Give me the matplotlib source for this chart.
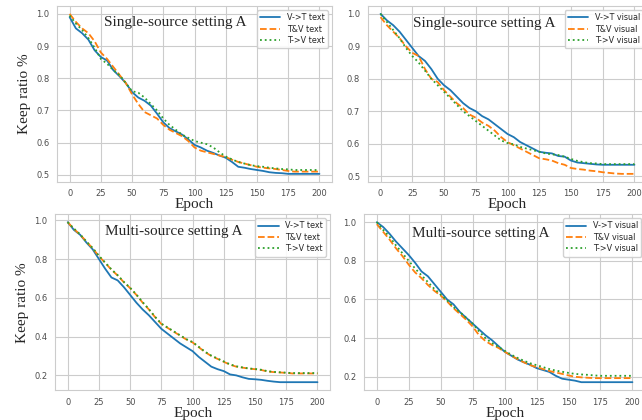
import numpy as np
import matplotlib
matplotlib.use("Agg")
import matplotlib.pyplot as plt
import seaborn as sns

sns.set_style("whitegrid")
plt.rcParams["font.family"] = ["DejaVu Sans"]

epochs = np.arange(0, 201, 5)

# --- Single-source setting A, text ---
ss_text_vt = [0.99, 0.955, 0.94, 0.92, 0.887, 0.866, 0.855, 0.825, 0.806, 0.785,
              0.757, 0.74, 0.73, 0.715, 0.69, 0.663, 0.645, 0.635, 0.625, 0.61,
              0.593, 0.585, 0.575, 0.568, 0.56, 0.553, 0.54, 0.525, 0.522, 0.518,
              0.515, 0.512, 0.508, 0.506, 0.505, 0.503, 0.503, 0.503, 0.503, 0.503, 0.503]
ss_text_tv = [1.0, 0.975, 0.955, 0.94, 0.915, 0.88, 0.86, 0.835, 0.81, 0.785,
              0.75, 0.72, 0.695, 0.685, 0.675, 0.655, 0.64, 0.63, 0.62, 0.605,
              0.585, 0.575, 0.57, 0.565, 0.56, 0.555, 0.547, 0.54, 0.535, 0.53,
              0.525, 0.522, 0.52, 0.518, 0.515, 0.512, 0.51, 0.51, 0.51, 0.51, 0.51]
ss_text_t2v = [0.995, 0.97, 0.95, 0.925, 0.895, 0.86, 0.845, 0.825, 0.81, 0.785,
               0.76, 0.755, 0.74, 0.72, 0.7, 0.675, 0.655, 0.64, 0.625, 0.615,
               0.605, 0.6, 0.595, 0.585, 0.57, 0.557, 0.548, 0.54, 0.535, 0.53,
               0.527, 0.525, 0.522, 0.52, 0.518, 0.517, 0.515, 0.515, 0.515, 0.515, 0.515]

# --- Single-source setting A, visual ---
ss_vis_vt = [1.0, 0.98, 0.965, 0.945, 0.92, 0.895, 0.87, 0.855, 0.83, 0.8,
             0.78, 0.765, 0.745, 0.725, 0.71, 0.7, 0.685, 0.675, 0.66, 0.645,
             0.63, 0.62, 0.605, 0.595, 0.585, 0.575, 0.572, 0.57, 0.562, 0.56,
             0.548, 0.542, 0.54, 0.538, 0.536, 0.535, 0.535, 0.535, 0.535, 0.535, 0.535]
ss_vis_tv = [0.99, 0.965, 0.945, 0.925, 0.9, 0.88, 0.87, 0.83, 0.8, 0.79,
             0.765, 0.745, 0.725, 0.71, 0.69, 0.68, 0.665, 0.655, 0.64, 0.62,
             0.605, 0.595, 0.585, 0.575, 0.565, 0.555, 0.552, 0.548, 0.54, 0.535,
             0.525, 0.522, 0.52, 0.517, 0.515, 0.512, 0.51, 0.508, 0.507, 0.507, 0.507]
ss_vis_t2v = [1.0, 0.975, 0.95, 0.925, 0.895, 0.87, 0.85, 0.825, 0.8, 0.78,
              0.76, 0.74, 0.72, 0.7, 0.685, 0.67, 0.655, 0.64, 0.625, 0.61,
              0.602, 0.598, 0.59, 0.585, 0.58, 0.575, 0.57, 0.567, 0.565, 0.56,
              0.553, 0.547, 0.543, 0.54, 0.539, 0.537, 0.537, 0.537, 0.537, 0.537, 0.537]

# --- Multi-source setting A, text ---
ms_text_vt = [0.99, 0.95, 0.925, 0.885, 0.85, 0.8, 0.75, 0.705, 0.69, 0.655,
              0.615, 0.575, 0.54, 0.51, 0.475, 0.44, 0.415, 0.39, 0.365, 0.345,
              0.325, 0.295, 0.27, 0.245, 0.232, 0.222, 0.205, 0.2, 0.19, 0.182,
              0.18, 0.177, 0.172, 0.168, 0.165, 0.165, 0.165, 0.165, 0.165, 0.165, 0.165]
ms_text_tv = [0.99, 0.955, 0.925, 0.89, 0.855, 0.815, 0.78, 0.745, 0.715, 0.68,
              0.65, 0.615, 0.575, 0.54, 0.5, 0.465, 0.445, 0.425, 0.405, 0.385,
              0.37, 0.345, 0.32, 0.3, 0.285, 0.27, 0.255, 0.245, 0.24, 0.235,
              0.232, 0.228, 0.22, 0.217, 0.215, 0.213, 0.21, 0.21, 0.21, 0.21, 0.21]
ms_text_t2v = [0.99, 0.957, 0.927, 0.89, 0.857, 0.817, 0.782, 0.747, 0.717, 0.682,
               0.652, 0.617, 0.578, 0.542, 0.502, 0.467, 0.447, 0.427, 0.407, 0.387,
               0.372, 0.347, 0.322, 0.302, 0.287, 0.272, 0.257, 0.247, 0.241, 0.236,
               0.233, 0.229, 0.222, 0.218, 0.216, 0.214, 0.212, 0.212, 0.212, 0.212, 0.212]

# --- Multi-source setting A, visual ---
ms_vis_vt = [1.0, 0.975, 0.94, 0.9, 0.865, 0.83, 0.79, 0.745, 0.72, 0.68,
             0.64, 0.6, 0.575, 0.535, 0.505, 0.475, 0.445, 0.415, 0.39, 0.36,
             0.33, 0.31, 0.29, 0.275, 0.262, 0.245, 0.235, 0.225, 0.205, 0.19,
             0.185, 0.18, 0.172, 0.172, 0.172, 0.172, 0.172, 0.172, 0.172, 0.172, 0.172]
ms_vis_tv = [0.99, 0.95, 0.91, 0.865, 0.825, 0.78, 0.74, 0.71, 0.675, 0.645,
             0.62, 0.59, 0.555, 0.525, 0.495, 0.46, 0.415, 0.385, 0.365, 0.35,
             0.33, 0.31, 0.292, 0.275, 0.26, 0.25, 0.24, 0.23, 0.222, 0.215,
             0.207, 0.2, 0.197, 0.195, 0.193, 0.193, 0.193, 0.193, 0.193, 0.193, 0.193]
ms_vis_t2v = [1.0, 0.96, 0.925, 0.88, 0.84, 0.8, 0.76, 0.725, 0.69, 0.655,
              0.625, 0.595, 0.56, 0.535, 0.505, 0.475, 0.435, 0.4, 0.375, 0.355,
              0.335, 0.315, 0.298, 0.283, 0.27, 0.26, 0.25, 0.24, 0.232, 0.226,
              0.22, 0.215, 0.212, 0.21, 0.207, 0.205, 0.205, 0.205, 0.205, 0.205, 0.205]

panels = [
    # rect, title, title pos, series, labels, ylabel
    ([0.089, 0.567, 0.428, 0.419], "Single-source setting A", (0.43, 0.905),
     [ss_text_vt, ss_text_tv, ss_text_t2v], ["V->T text", "T&V text", "T->V text"], True),
    ([0.573, 0.567, 0.435, 0.419], "Single-source setting A", (0.418, 0.90),
     [ss_vis_vt, ss_vis_tv, ss_vis_t2v], ["V->T visual", "T&V visual", "T->V visual"], False),
    ([0.086, 0.071, 0.428, 0.419], "Multi-source setting A", (0.43, 0.90),
     [ms_text_vt, ms_text_tv, ms_text_t2v], ["V->T text", "T&V text", "T->V text"], True),
    ([0.567, 0.071, 0.438, 0.419], "Multi-source setting A", (0.416, 0.89),
     [ms_vis_vt, ms_vis_tv, ms_vis_t2v], ["V->T visual", "T&V visual", "T->V visual"], False),
]

colors = ["#1f77b4", "#ff7f0e", "#2ca02c"]
styles = ["-", "--", ":"]
serif = ["Liberation Serif", "DejaVu Serif"]

fig = plt.figure(figsize=(6.42, 4.2), dpi=100)

for rect, title, tpos, series, labels, ylab in panels:
    ax = fig.add_axes(rect)
    for ys, lab, c, ls in zip(series, labels, colors, styles):
        ax.plot(epochs, ys, color=c, linestyle=ls, linewidth=1.3, label=lab)
    ax.set_xticks(np.arange(0, 201, 25))
    ax.tick_params(labelsize=6, pad=2, colors=".3")
    ax.set_xlabel("Epoch", family=serif, fontsize=11, labelpad=0)
    if ylab:
        ax.set_ylabel("Keep ratio %", family=serif, fontsize=11, labelpad=4)
    ax.text(tpos[0], tpos[1], title, transform=ax.transAxes, ha="center",
            va="center", family=serif, fontsize=11)
    ax.legend(loc="upper right", fontsize=5.8, handlelength=2.5,
              borderpad=0.4, labelspacing=0.3, framealpha=0.9)

fig.savefig("out.png", dpi=100)
